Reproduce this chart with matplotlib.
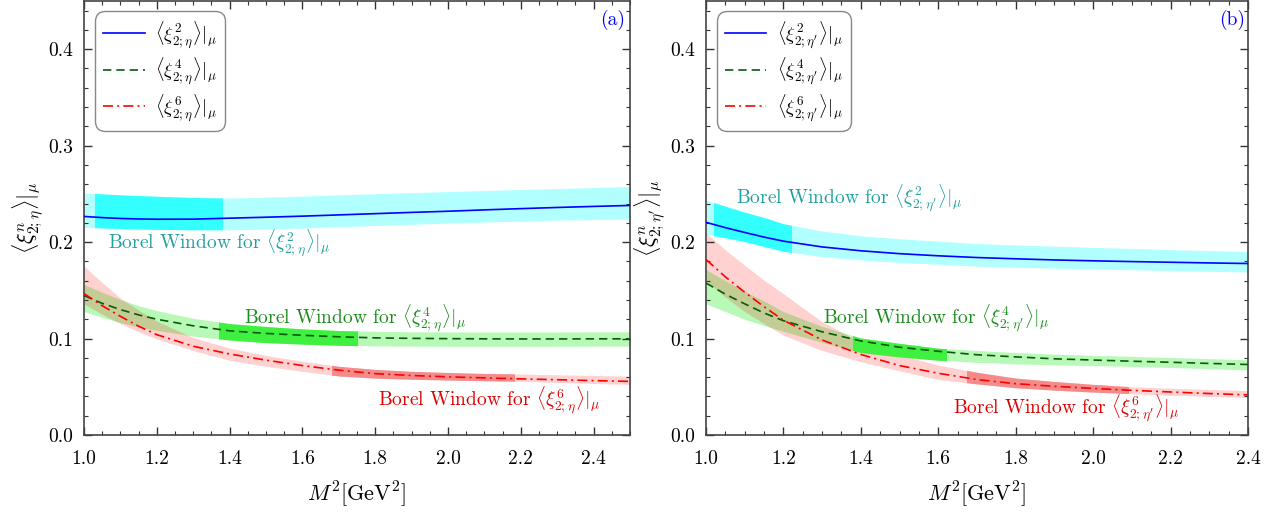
import matplotlib

matplotlib.use("Agg")
import matplotlib.pyplot as plt
from matplotlib.patches import Rectangle
from matplotlib.ticker import MultipleLocator, FormatStrFormatter

plt.rcParams["font.family"] = ["cmr10", "DejaVu Serif"]
plt.rcParams["mathtext.fontset"] = "cm"
plt.rcParams["axes.formatter.use_mathtext"] = True

# ---- panel (a): eta -------------------------------------------------------
x_a = [1.0, 1.05, 1.1, 1.15, 1.2, 1.3, 1.4, 1.5, 1.6, 1.7, 1.8, 1.9,
       2.0, 2.1, 2.2, 2.3, 2.4, 2.5]
xi2_a = [0.2266, 0.2254, 0.2245, 0.2240, 0.2237, 0.2238, 0.2248, 0.2258,
         0.2269, 0.2282, 0.2295, 0.2308, 0.2320, 0.2334, 0.2347, 0.2359,
         0.2370, 0.2380]
xi2_a_hi = [0.2510, 0.2500, 0.2490, 0.2482, 0.2475, 0.2462, 0.2456, 0.2466,
            0.2477, 0.2490, 0.2502, 0.2513, 0.2524, 0.2535, 0.2545, 0.2556,
            0.2566, 0.2576]
xi2_a_lo = [0.2155, 0.2147, 0.2140, 0.2136, 0.2132, 0.2128, 0.2128, 0.2135,
            0.2145, 0.2160, 0.2172, 0.2185, 0.2197, 0.2208, 0.2218, 0.2228,
            0.2233, 0.2238]
xi4_a = [0.1445, 0.1365, 0.1300, 0.1245, 0.1200, 0.1132, 0.1080, 0.1053,
         0.1034, 0.1018, 0.1007, 0.1002, 0.0999, 0.0997, 0.0996, 0.0996,
         0.0997, 0.0997]
xi4_a_hi = [0.1560, 0.1480, 0.1405, 0.1340, 0.1290, 0.1210, 0.1155, 0.1125,
            0.1100, 0.1083, 0.1075, 0.1070, 0.1068, 0.1068, 0.1068, 0.1068,
            0.1069, 0.1069]
xi4_a_lo = [0.1280, 0.1220, 0.1165, 0.1120, 0.1085, 0.1025, 0.0985, 0.0958,
            0.0942, 0.0930, 0.0923, 0.0921, 0.0920, 0.0920, 0.0920, 0.0920,
            0.0921, 0.0921]
xi6_a = [0.1466, 0.1340, 0.1230, 0.1128, 0.1040, 0.0920, 0.0840, 0.0776,
         0.0720, 0.0672, 0.0636, 0.0617, 0.0603, 0.0592, 0.0582, 0.0573,
         0.0564, 0.0556]
xi6_a_hi = [0.1750, 0.1580, 0.1420, 0.1295, 0.1180, 0.1010, 0.0900, 0.0825,
            0.0765, 0.0712, 0.0680, 0.0660, 0.0648, 0.0638, 0.0632, 0.0624,
            0.0617, 0.0610]
xi6_a_lo = [0.1360, 0.1250, 0.1155, 0.1070, 0.0995, 0.0875, 0.0775, 0.0712,
            0.0660, 0.0612, 0.0590, 0.0578, 0.0570, 0.0563, 0.0557, 0.0545,
            0.0534, 0.0524]
windows_a = [(1.03, 1.38), (1.37, 1.75), (1.68, 2.18)]

# ---- panel (b): eta' ------------------------------------------------------
x_b = [1.0, 1.05, 1.1, 1.15, 1.2, 1.3, 1.4, 1.5, 1.6, 1.7, 1.8, 1.9,
       2.0, 2.1, 2.2, 2.3, 2.4]
xi2_b = [0.2205, 0.2150, 0.2100, 0.2052, 0.2010, 0.1950, 0.1910, 0.1880,
         0.1858, 0.1840, 0.1827, 0.1815, 0.1806, 0.1798, 0.1791, 0.1784,
         0.1778]
xi2_b_hi = [0.2435, 0.2372, 0.2310, 0.2255, 0.2190, 0.2115, 0.2065, 0.2035,
            0.2010, 0.1985, 0.1970, 0.1958, 0.1945, 0.1935, 0.1922, 0.1912,
            0.1900]
xi2_b_lo = [0.2080, 0.2045, 0.2005, 0.1955, 0.1905, 0.1850, 0.1815, 0.1790,
            0.1770, 0.1752, 0.1740, 0.1730, 0.1722, 0.1713, 0.1705, 0.1697,
            0.1690]
xi4_b = [0.1576, 0.1460, 0.1360, 0.1265, 0.1185, 0.1070, 0.0975, 0.0910,
         0.0868, 0.0832, 0.0810, 0.0790, 0.0777, 0.0765, 0.0754, 0.0742,
         0.0731]
xi4_b_hi = [0.1715, 0.1600, 0.1490, 0.1390, 0.1280, 0.1125, 0.1005, 0.0950,
            0.0900, 0.0876, 0.0855, 0.0838, 0.0826, 0.0815, 0.0803, 0.0792,
            0.0780]
xi4_b_lo = [0.1360, 0.1280, 0.1200, 0.1135, 0.1075, 0.0960, 0.0855, 0.0810,
            0.0775, 0.0753, 0.0738, 0.0727, 0.0720, 0.0711, 0.0700, 0.0688,
            0.0675]
xi6_b = [0.1820, 0.1640, 0.1480, 0.1330, 0.1190, 0.0985, 0.0835, 0.0720,
         0.0640, 0.0575, 0.0532, 0.0505, 0.0483, 0.0463, 0.0446, 0.0430,
         0.0416]
xi6_b_hi = [0.2096, 0.1920, 0.1760, 0.1605, 0.1465, 0.1175, 0.0960, 0.0830,
            0.0725, 0.0650, 0.0590, 0.0555, 0.0525, 0.0500, 0.0485, 0.0472,
            0.0460]
xi6_b_lo = [0.1600, 0.1430, 0.1280, 0.1155, 0.1035, 0.0876, 0.0760, 0.0665,
            0.0575, 0.0530, 0.0490, 0.0465, 0.0445, 0.0428, 0.0412, 0.0400,
            0.0390]
windows_b = [(1.02, 1.22), (1.38, 1.62), (1.675, 2.09)]

# band colours: light (whole range) and strong (Borel window)
LIGHT = [("#00ffff", 0.30), ("#22ee22", 0.32), ("#ff0000", 0.18)]
DARK = ["#33ffff", "#40f040", "#f58a8a"]
LINES = [dict(color="#0000ff", ls="-", lw=1.2),
         dict(color="#0b5a0b", ls=(0, (5, 3)), lw=1.2),
         dict(color="#ff0000", ls=(0, (6, 2.5, 1.2, 2.5)), lw=1.2)]
TXT_COL = ["#20a0a0", "#1a8c1a", "#dd0000"]


def draw_panel(ax, x, series, windows, sub, xmax, texts, tag, tag_xy):
    for k, (y, lo, hi) in enumerate(series):
        col, a = LIGHT[k]
        ax.fill_between(x, lo, hi, color=col, alpha=a, lw=0, zorder=1)
    for k, (y, lo, hi) in enumerate(series):
        w0, w1 = windows[k]
        poly = ax.fill_between(x, lo, hi, color=DARK[k], lw=0, zorder=2)
        clip = Rectangle((w0, 0), w1 - w0, 1, transform=ax.transData)
        poly.set_clip_path(clip)
    labels = []
    for k, (y, lo, hi) in enumerate(series):
        n = 2 * (k + 1)
        lab = r"$\langle\xi^{%d}_{2;%s}\rangle|_\mu$" % (n, sub)
        labels.append(lab)
        ax.plot(x, y, zorder=3, label=lab, **LINES[k])
    for k, (tx, ty) in enumerate(texts):
        ax.text(tx, ty, r"Borel Window for " + labels[k], color=TXT_COL[k],
                fontsize=14, va="center", ha="left", zorder=4)
    ax.text(tag_xy[0], tag_xy[1], tag, color="#0000ff", fontsize=14,
            ha="center", va="center")

    ax.set_xlim(1.0, xmax)
    ax.set_ylim(0.0, 0.45)
    ax.xaxis.set_major_locator(MultipleLocator(0.2))
    ax.xaxis.set_minor_locator(MultipleLocator(0.05))
    ax.yaxis.set_major_locator(MultipleLocator(0.1))
    ax.yaxis.set_minor_locator(MultipleLocator(0.02))
    ax.xaxis.set_major_formatter(FormatStrFormatter("%.1f"))
    ax.yaxis.set_major_formatter(FormatStrFormatter("%.1f"))
    ax.tick_params(which="both", direction="in", top=True, right=True,
                   labelsize=14, colors="#333333", labelcolor="black")
    ax.tick_params(which="major", length=6, width=1.0)
    ax.tick_params(axis="x", which="major", pad=11)
    ax.tick_params(axis="y", which="major", pad=8)
    ax.tick_params(which="minor", length=3, width=0.8)
    for s in ax.spines.values():
        s.set_color("#444444")
        s.set_linewidth(1.2)
    ax.set_xlabel(r"$M^2[\mathrm{GeV}^2]$", fontsize=16, labelpad=8)
    ax.set_ylabel(r"$\langle\xi^n_{2;%s}\rangle|_\mu$" % sub, fontsize=16,
                  labelpad=2)
    leg = ax.legend(loc="upper left", fontsize=13.5, handlelength=2.2,
                    labelspacing=0.3, borderpad=0.45, handletextpad=0.55,
                    borderaxespad=0.0, fancybox=True, framealpha=1.0,
                    edgecolor="#888888", bbox_to_anchor=(0.02, 0.978))
    frame = leg.get_frame()
    frame.set_linewidth(1.0)
    frame.set_boxstyle("round", pad=0, rounding_size=0.55)


fig = plt.figure(figsize=(12.81, 5.14), dpi=100)
ax_a = fig.add_axes([0.0656, 0.1537, 0.4262, 0.8444])
ax_b = fig.add_axes([0.5511, 0.1537, 0.4231, 0.8444])

draw_panel(ax_a, x_a,
           [(xi2_a, xi2_a_lo, xi2_a_hi), (xi4_a, xi4_a_lo, xi4_a_hi),
            (xi6_a, xi6_a_lo, xi6_a_hi)],
           windows_a, r"\eta", 2.5,
           [(1.066, 0.199), (1.44, 0.121), (1.808, 0.036)],
           "(a)", (2.453, 0.43))
draw_panel(ax_b, x_b,
           [(xi2_b, xi2_b_lo, xi2_b_hi), (xi4_b, xi4_b_lo, xi4_b_hi),
            (xi6_b, xi6_b_lo, xi6_b_hi)],
           windows_b, r"\eta'", 2.4,
           [(1.078, 0.245), (1.303, 0.121), (1.639, 0.028)],
           "(b)", (2.36, 0.43))

fig.savefig("out.png", dpi=100)
